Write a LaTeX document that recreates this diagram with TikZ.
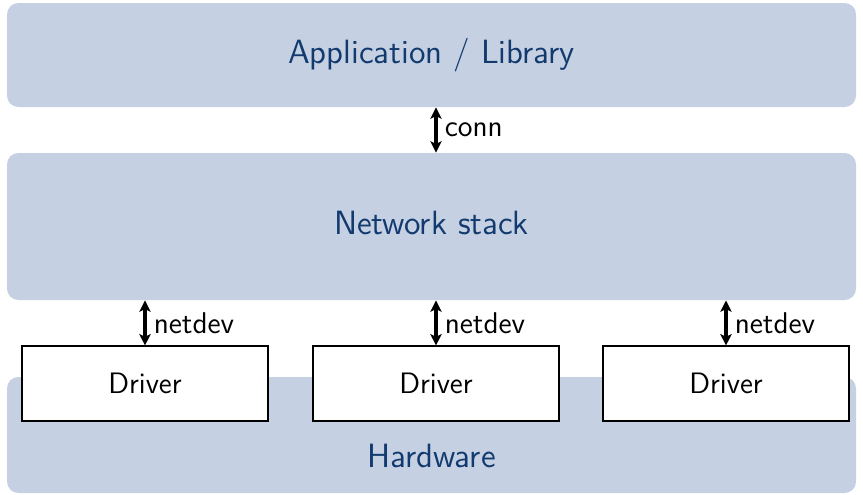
\documentclass[tikz,border=0pt]{standalone}
\usetikzlibrary{arrows.meta,fit}
\renewcommand{\familydefault}{\sfdefault}
\definecolor{layerfill}{RGB}{197,209,227}
\definecolor{layertext}{RGB}{18,58,110}
\tikzset{
  layer/.style={fill=layerfill, draw=none, rounded corners=5pt, inner sep=0pt},
  layerlabel/.style={text=layertext, font=\fontsize{14.8}{17}\selectfont, inner sep=0pt, anchor=center},
  driverbox/.style={draw=black, fill=white, line width=0.5pt, inner sep=0pt},
  driverlabel/.style={font=\fontsize{13}{15}\selectfont, inner sep=0pt, anchor=center},
  biarrow/.style={{Stealth[length=5pt,width=5pt,inset=1.2pt]}-{Stealth[length=5pt,width=5pt,inset=1.2pt]}, line width=1.8pt},
  ifacelabel/.style={right, inner sep=1pt, xshift=2pt, font=\fontsize{13.2}{15}\selectfont}
}
\begin{document}
\begin{tikzpicture}[x=0.44pt, y=-0.44pt]
  \useasboundingbox (0,0) rectangle (863,494);

  % stacked layers
  \node[layer, fit={(7,3) (856,107)}] (app) {};
  \node[layerlabel] (apptext) at (app.center) {Application / Library};
  \node[layer, fit={(7,153) (856,300)}] (net) {};
  \node[layerlabel] (nettext) at (0,223 -| net.center) {Network stack};
  \node[layer, fit={(7,377) (856,493)}] (hw) {};
  \node[layerlabel] (hwtext) at (431.5,456) {Hardware};

  % drivers sitting on the hardware layer
  \node[driverbox, fit={(22,346) (268,421)}] (d1) {};
  \node[driverbox, fit={(313,346) (559,421)}] (d2) {};
  \node[driverbox, fit={(603,346) (849,421)}] (d3) {};
  \node[driverlabel] at (d1.center) {Driver};
  \node[driverlabel] at (d2.center) {Driver};
  \node[driverlabel] at (d3.center) {Driver};

  % interfaces between layers
  \draw[biarrow] (app.south -| d2.north) -- node[ifacelabel] {conn} (net.north -| d2.north);
  \draw[biarrow] (net.south -| d1.north) -- node[ifacelabel] {netdev} (d1.north);
  \draw[biarrow] (net.south -| d2.north) -- node[ifacelabel] {netdev} (d2.north);
  \draw[biarrow] (net.south -| d3.north) -- node[ifacelabel] {netdev} (d3.north);
\end{tikzpicture}
\end{document}
